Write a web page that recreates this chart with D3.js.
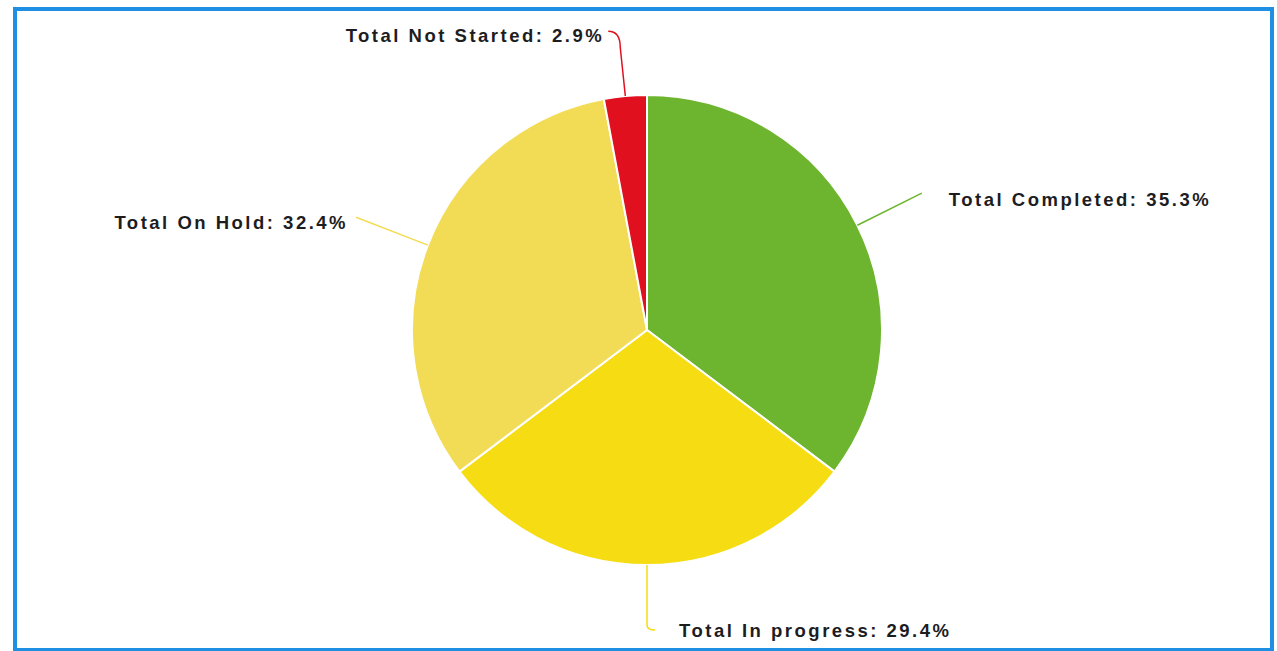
<!DOCTYPE html>
<html>
<head>
<meta charset="utf-8">
<script src="https://cdn.jsdelivr.net/npm/d3@7"></script>
<style>
  body { margin: 0; background: #fff; }
  .lbl { font-family: "Liberation Sans", Arial, sans-serif; font-weight: bold; font-size: 18.5px; fill: #1d1d1f; letter-spacing: 2.5px; }
</style>
</head>
<body>
<div id="chart"></div>
<script>
// data: task counts by status
var categories = ["Total Completed", "Total In progress", "Total On Hold", "Total Not Started"];
var counts = [12, 10, 11, 1];
var colors = ["#6db52e", "#f6dc12", "#f3dc55", "#e0101f"];

// label layout: radial extension, hook, text offset
var labelLayout = [
  { ext: 72, hx: 0, hy: 0, tx: 27, ty: 6, anchor: "start" },
  { ext: 60, hx: 8, hy: 5, tx: 24, ty: 1, anchor: "start" },
  { ext: 77, hx: 0, hy: 0, tx: -8, ty: 5, anchor: "end" },
  { ext: 55, hx: -12, hy: -10, tx: -4, ty: 4, anchor: "end" }
];

var svgWidth = 1277;
var svgHeight = 651;
var cx = 647, cy = 330, radius = 235;

var svg = d3.select("#chart").append("svg")
    .attr("width", svgWidth)
    .attr("height", svgHeight);

// frame
svg.append("rect")
    .attr("x", 15)
    .attr("y", 9)
    .attr("width", 1257)
    .attr("height", 641)
    .attr("fill", "#fff")
    .attr("stroke", "#1e8fe2")
    .attr("stroke-width", 4);

var total = d3.sum(counts);
var data = categories.map(function(c, i) {
    return { name: c, value: counts[i], color: colors[i], layout: labelLayout[i] };
});

var pie = d3.pie().sort(null).value(d => d.value);
var arc = d3.arc().innerRadius(0).outerRadius(radius);

var g = svg.append("g")
    .attr("transform", `translate(${cx}, ${cy})`);

var arcs = pie(data);

g.selectAll("path.slice")
    .data(arcs)
    .enter()
    .append("path")
    .attr("class", "slice")
    .attr("d", arc)
    .attr("fill", d => d.data.color)
    .attr("stroke", "#fff")
    .attr("stroke-width", 2)
    .attr("stroke-linejoin", "round");

function pointAt(angle, r) {
    return [Math.sin(angle) * r, -Math.cos(angle) * r];
}

arcs.forEach(function(d) {
    var mid = (d.startAngle + d.endAngle) / 2;
    var L = d.data.layout;
    var edge = pointAt(mid, radius);
    var p = pointAt(mid, radius + L.ext);
    var end = [p[0] + L.hx, p[1] + L.hy];

    var path = d3.path();
    path.moveTo(edge[0], edge[1]);
    if (L.hx === 0 && L.hy === 0) {
        path.lineTo(p[0], p[1]);
    } else {
        path.lineTo(p[0], p[1] - (L.hy < 0 ? -6 : 0));
        path.quadraticCurveTo(p[0], end[1], end[0], end[1]);
    }

    g.append("path")
        .attr("d", path.toString())
        .attr("fill", "none")
        .attr("stroke", d.data.color)
        .attr("stroke-width", 1.5);

    g.append("text")
        .attr("class", "lbl")
        .attr("x", end[0] + L.tx)
        .attr("y", end[1] + L.ty)
        .attr("dy", "0.35em")
        .attr("text-anchor", L.anchor)
        .text(`${d.data.name}: ${(d.data.value / total * 100).toFixed(1)}%`);
});
</script>
</body>
</html>
